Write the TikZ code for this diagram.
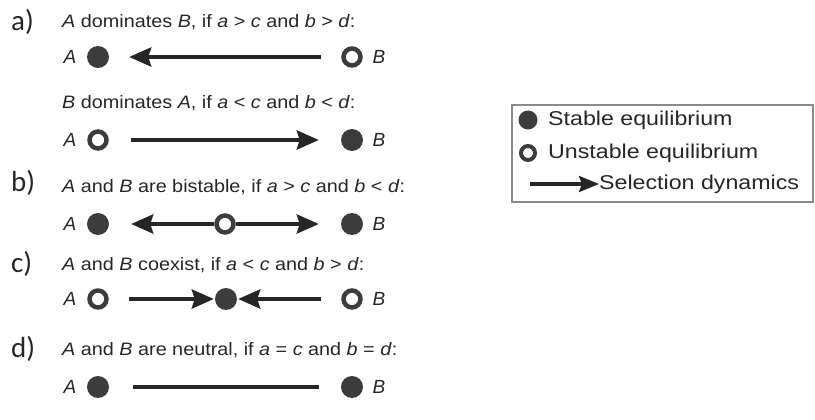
\documentclass[tikz,border=0pt]{standalone}
\usepackage{fontspec}
\setmainfont{Liberation Sans}
\newfontfamily\labfont{Carlito}
\usetikzlibrary{arrows.meta}
\definecolor{ink}{HTML}{262626}
\definecolor{dot}{HTML}{3C3C3C}
\definecolor{boxline}{HTML}{8A8A8A}
\newcommand{\condtext}[1]{\scalebox{1.1}[1]{\fontsize{18}{21}\selectfont #1}}
\newcommand{\legtext}[1]{\scalebox{1.16}[1]{\fontsize{20}{23}\selectfont #1}}
\begin{document}
\begin{tikzpicture}[x=1pt,y=-1pt,
  panel/.style={anchor=west,inner sep=0pt,text=ink,font=\labfont\fontsize{29}{32}\selectfont},
  cond/.style={anchor=west,inner sep=0pt,text=ink},
  letter/.style={inner sep=0pt,text=ink,font=\fontsize{19}{22}\selectfont\itshape},
  stable/.style={circle,fill=dot,minimum size=22pt,inner sep=0pt},
  unstable/.style={circle,draw=dot,line width=4.5pt,minimum size=17pt,inner sep=0pt},
  dyn/.style={draw=ink,line width=4pt,-{Stealth[length=22pt,width=19pt,inset=3pt]}},
  bond/.style={draw=ink,line width=4pt},
  legbox/.style={draw=boxline,line width=1.2pt}]
\useasboundingbox (0,0) rectangle (815,420);

% panel labels
\node[panel] (la) at (11,22) {a)};
\node[panel] (lb) at (11,183) {b)};
\node[panel] (lc) at (11,264) {c)};
\node[panel] (ld) at (11,349) {d)};

% conditions
\node[cond] (t1) at (62,22) {\condtext{\textit{A} dominates \textit{B}, if \textit{a} > \textit{c} and \textit{b} > \textit{d}:}};
\node[cond] (t2) at (62,103) {\condtext{\textit{B} dominates \textit{A}, if \textit{a} < \textit{c} and \textit{b} < \textit{d}:}};
\node[cond] (t3) at (62,187) {\condtext{\textit{A} and \textit{B} are bistable, if \textit{a} > \textit{c} and \textit{b} < \textit{d}:}};
\node[cond] (t4) at (62,265) {\condtext{\textit{A} and \textit{B} coexist, if \textit{a} < \textit{c} and \textit{b} > \textit{d}:}};
\node[cond] (t5) at (62,350) {\condtext{\textit{A} and \textit{B} are neutral, if \textit{a} = \textit{c} and \textit{b} = \textit{d}:}};

% row 1: A dominates B
\node[letter] (a1A) at (70,57) {A};
\node[stable] (a1L) at (98,57) {};
\node[unstable] (a1R) at (352,57) {};
\node[letter] (a1B) at (379,57) {B};
\draw[dyn,shorten <=20pt,shorten >=20pt] (a1R) -- (a1L);

% row 2: B dominates A
\node[letter] (a2A) at (70,140) {A};
\node[unstable] (a2L) at (98,140) {};
\node[stable] (a2R) at (352,140) {};
\node[letter] (a2B) at (379,140) {B};
\draw[dyn,shorten <=22pt,shorten >=22pt] (a2L) -- (a2R);

% row 3: bistable
\node[letter] (bA) at (70,224) {A};
\node[stable] (bL) at (98,224) {};
\node[unstable] (bM) at (225,224) {};
\node[stable] (bR) at (352,224) {};
\node[letter] (bB) at (379,224) {B};
\draw[dyn,shorten >=22pt] (bM) -- (bL);
\draw[dyn,shorten >=22pt] (bM) -- (bR);

% row 4: coexistence
\node[letter] (cA) at (70,299) {A};
\node[unstable] (cL) at (98,299) {};
\node[stable] (cM) at (226,299) {};
\node[unstable] (cR) at (352,299) {};
\node[letter] (cB) at (379,299) {B};
\draw[dyn,shorten <=20pt,shorten >=1pt] (cL) -- (cM);
\draw[dyn,shorten <=20pt,shorten >=1pt] (cR) -- (cM);

% row 5: neutral
\node[letter] (dA) at (70,387) {A};
\node[stable] (dL) at (98,387) {};
\node[stable] (dR) at (352,387) {};
\node[letter] (dB) at (379,387) {B};
\draw[bond,shorten <=24pt,shorten >=22pt] (dL) -- (dR);

% legend
\node[legbox,minimum width=301pt,minimum height=97pt,inner sep=0pt] (leg) at (662.5,153.5) {};
\node[stable,minimum size=19pt] (kS) at (528,120) {};
\node[cond] (kSt) at (548,120) {\legtext{Stable equilibrium}};
\node[unstable,minimum size=14pt,line width=4pt] (kU) at (528,153) {};
\node[cond] (kUt) at (548,153) {\legtext{Unstable equilibrium}};
\coordinate (kA0) at (530,184);
\node[cond] (kAt) at (599,184) {\legtext{Selection dynamics}};
\draw[dyn,line width=3.5pt,-{Stealth[length=20pt,width=16pt,inset=3pt]}] (kA0) -- (kAt.west);
\end{tikzpicture}
\end{document}
